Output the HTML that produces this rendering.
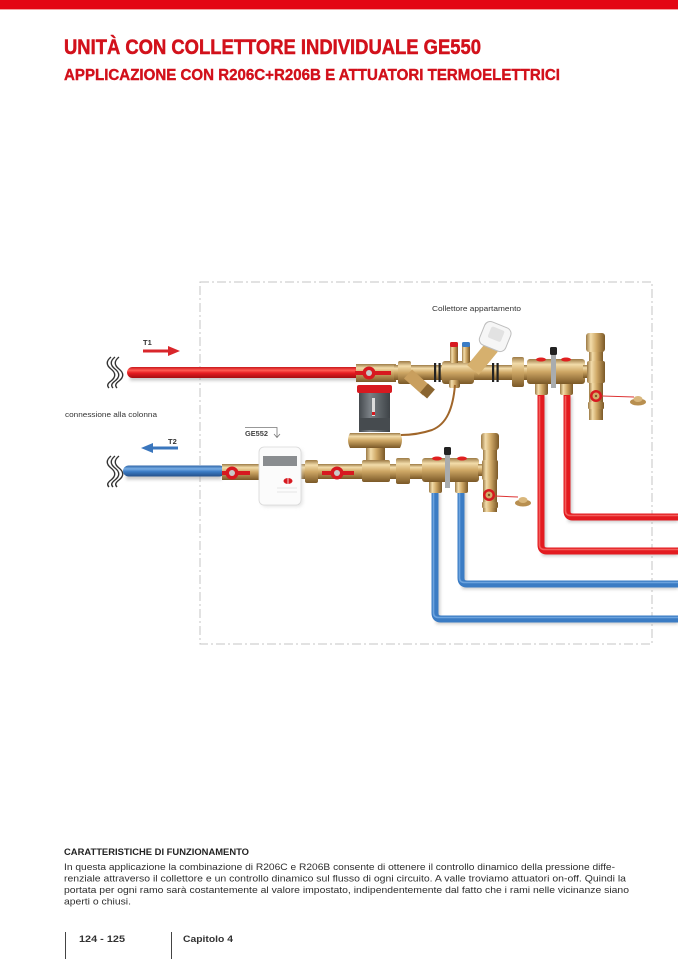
<!DOCTYPE html>
<html><head><meta charset="utf-8"><style>
html,body{margin:0;padding:0;background:#fff;}
svg{display:block;}
text{font-family:"Liberation Sans",sans-serif;}
</style></head><body>
<svg width="678" height="959" viewBox="0 0 678 959" xmlns="http://www.w3.org/2000/svg">
<defs>
<linearGradient id="bH" x1="0" y1="0" x2="0" y2="1">
<stop offset="0" stop-color="#9c7a45"/><stop offset="0.22" stop-color="#f2dcaa"/><stop offset="0.5" stop-color="#cfa866"/><stop offset="1" stop-color="#7a5827"/></linearGradient>
<linearGradient id="bV" x1="0" y1="0" x2="1" y2="0">
<stop offset="0" stop-color="#9c7a45"/><stop offset="0.25" stop-color="#f2dcaa"/><stop offset="0.55" stop-color="#cfa866"/><stop offset="1" stop-color="#7a5827"/></linearGradient>
<linearGradient id="rH" x1="0" y1="0" x2="0" y2="1">
<stop offset="0" stop-color="#c8161b"/><stop offset="0.3" stop-color="#ff5b52"/><stop offset="0.55" stop-color="#e61c21"/><stop offset="1" stop-color="#a30d11"/></linearGradient>
<linearGradient id="blH" x1="0" y1="0" x2="0" y2="1">
<stop offset="0" stop-color="#2d64a6"/><stop offset="0.3" stop-color="#78acE4"/><stop offset="0.55" stop-color="#3c7dc6"/><stop offset="1" stop-color="#24508a"/></linearGradient>
<linearGradient id="gV" x1="0" y1="0" x2="1" y2="0">
<stop offset="0" stop-color="#454a4e"/><stop offset="0.35" stop-color="#7a8085"/><stop offset="1" stop-color="#3e4347"/></linearGradient>
<filter id="sh" x="-5%" y="-20%" width="110%" height="160%"><feGaussianBlur stdDeviation="1.6"/></filter>
</defs>

<!-- top bar -->
<rect x="0" y="0" width="678" height="9" fill="#e30613"/>
<rect x="0" y="9" width="678" height="1" fill="#f3a0a0"/>

<!-- titles -->
<text x="64" y="54" font-size="21" font-weight="bold" fill="#d2111b" stroke="#d2111b" stroke-width="0.5" textLength="417" lengthAdjust="spacingAndGlyphs">UNITÀ CON COLLETTORE INDIVIDUALE GE550</text>
<text x="64" y="80" font-size="16" font-weight="bold" fill="#d2111b" stroke="#d2111b" stroke-width="0.4" textLength="496" lengthAdjust="spacingAndGlyphs">APPLICAZIONE CON R206C+R206B E ATTUATORI TERMOELETTRICI</text>

<!-- dashed box -->
<rect x="200" y="282" width="452" height="362" fill="none" stroke="#c4c4c4" stroke-width="1" stroke-dasharray="9 3 2 3"/>

<!-- labels -->
<text x="432" y="311" font-size="7.5" fill="#333" textLength="89" lengthAdjust="spacingAndGlyphs">Collettore appartamento</text>
<text x="143" y="345" font-size="7.5" font-weight="bold" fill="#333">T1</text>
<text x="168" y="444" font-size="7.5" font-weight="bold" fill="#333">T2</text>
<text x="65" y="417" font-size="7.5" fill="#333" textLength="92" lengthAdjust="spacingAndGlyphs">connessione alla colonna</text>
<text x="245" y="436" font-size="7.5" font-weight="bold" fill="#444" textLength="23" lengthAdjust="spacingAndGlyphs">GE552</text>
<path d="M245,427.5 H277 V437" fill="none" stroke="#777" stroke-width="0.8"/>
<path d="M274,434 L277,437.5 L280,434" fill="none" stroke="#777" stroke-width="0.8"/>

<!-- arrows -->
<line x1="143" y1="351" x2="170" y2="351" stroke="#d9262b" stroke-width="3"/>
<polygon points="168,346 180,351 168,356" fill="#d9262b"/>
<line x1="151" y1="448" x2="178" y2="448" stroke="#3a76bd" stroke-width="3"/>
<polygon points="153,443 141,448 153,453" fill="#3a76bd"/>

<!-- squiggles -->
<g fill="none" stroke="#333" stroke-width="1.4">
<path d="M111,357 C106,361 106,365 111,369 C116,373 116,377 111,381 C107,384 107,386 109,388"/>
<path d="M115,357 C110,361 110,365 115,369 C120,373 120,377 115,381 C111,384 111,386 113,388"/>
<path d="M119,357 C114,361 114,365 119,369 C124,373 124,377 119,381 C115,384 115,386 117,388"/>
<path d="M111,456 C106,460 106,464 111,468 C116,472 116,476 111,480 C107,483 107,485 109,487"/>
<path d="M115,456 C110,460 110,464 115,468 C120,472 120,476 115,480 C111,483 111,485 113,487"/>
<path d="M119,456 C114,460 114,464 119,468 C124,472 124,476 119,480 C115,483 115,485 117,487"/>
</g>

<!-- shadows -->
<g filter="url(#sh)" stroke="#9a9a9a" fill="none" opacity="0.55">
<line x1="130" y1="378" x2="360" y2="378" stroke-width="5"/>
<line x1="126" y1="477" x2="222" y2="477" stroke-width="5"/>
<path d="M438,492 V622 H678" stroke-width="4"/>
<path d="M464,492 V587 H678" stroke-width="4"/>
<path d="M544,396 V554 H678" stroke-width="4"/>
<path d="M570,396 V520 H678" stroke-width="4"/>
</g>

<!-- distribution pipes -->
<g fill="none" stroke-width="7">
<path d="M435,490 V613 Q435,619 441,619 H678" stroke="#3b7cc4"/>
<path d="M461,490 V578 Q461,584 467,584 H678" stroke="#3b7cc4"/>
<path d="M541,394 V545 Q541,551 547,551 H678" stroke="#e31b20"/>
<path d="M567,394 V511 Q567,517 573,517 H678" stroke="#e31b20"/>
</g>
<g fill="none" stroke-width="1.6" opacity="0.6">
<path d="M433.5,492 V613 Q433.5,617.5 439,617.5 H678" stroke="#8dbdf0"/>
<path d="M459.5,492 V578 Q459.5,582.5 465,582.5 H678" stroke="#8dbdf0"/>
<path d="M539.5,396 V545 Q539.5,549.5 545,549.5 H678" stroke="#ff8a82"/>
<path d="M565.5,396 V511 Q565.5,515.5 571,515.5 H678" stroke="#ff8a82"/>
</g>

<!-- main pipes -->
<rect x="127" y="367" width="234" height="11" rx="5.5" fill="url(#rH)"/>
<rect x="123" y="465.5" width="102" height="11" rx="5.5" fill="url(#blH)"/>

<!-- ===== upper line brass ===== -->
<rect x="356" y="364" width="40" height="18" fill="url(#bH)"/>
<rect x="394" y="365" width="135" height="15" fill="url(#bH)"/>
<rect x="398" y="361" width="13" height="23" rx="2" fill="url(#bH)"/>
<rect x="512" y="357" width="12" height="30" rx="2" fill="url(#bH)"/>
<!-- strainer -->
<line x1="408" y1="374" x2="427" y2="391" stroke="#c99f5e" stroke-width="12"/>
<line x1="424" y1="388" x2="431" y2="394" stroke="#8a6530" stroke-width="12"/>
<!-- black rings -->
<rect x="434" y="363" width="2.2" height="19" fill="#222"/>
<rect x="438.5" y="363" width="2.2" height="19" fill="#222"/>
<rect x="492" y="363" width="2.2" height="19" fill="#222"/>
<rect x="496.5" y="363" width="2.2" height="19" fill="#222"/>
<!-- valve body with nipples -->
<rect x="442" y="361" width="32" height="23" rx="3" fill="url(#bH)"/>
<rect x="449" y="380" width="11" height="8" rx="2" fill="url(#bV)"/>
<rect x="450" y="345" width="8" height="18" fill="url(#bV)"/>
<rect x="450" y="342" width="8" height="5" rx="1.5" fill="#d71920"/>
<rect x="462" y="345" width="8" height="18" fill="url(#bV)"/>
<rect x="462" y="342" width="8" height="5" rx="1.5" fill="#3a7cc5"/>
<!-- handwheel valve -->
<line x1="473" y1="370" x2="492" y2="347" stroke="#d6b06e" stroke-width="15"/>
<g transform="rotate(22 495 337)">
<rect x="481" y="324" width="28" height="25" rx="6" fill="#f6f6f6" stroke="#bdbdbd" stroke-width="1"/>
<rect x="488" y="328" width="14" height="12" rx="2" fill="#e2e2e2"/>
</g>
<!-- upper ball valve lever -->
<line x1="355" y1="373" x2="391" y2="373" stroke="#d71920" stroke-width="4"/>
<circle cx="369" cy="373" r="6.5" fill="#d71920"/>
<circle cx="369" cy="373" r="3" fill="#c9c9c9"/>
<!-- upper manifold -->
<rect x="535" y="382" width="13" height="13" rx="2" fill="url(#bV)"/>
<rect x="560" y="382" width="13" height="13" rx="2" fill="url(#bV)"/>
<rect x="527" y="359" width="58" height="25" rx="3" fill="url(#bH)"/>
<ellipse cx="541" cy="359.5" rx="5" ry="2" fill="#e02020"/>
<ellipse cx="566" cy="359.5" rx="5" ry="2" fill="#e02020"/>
<rect x="551" y="352" width="5" height="36" fill="#a9acae"/>
<rect x="550" y="347" width="7" height="8" rx="1.5" fill="#222"/>
<rect x="583" y="365" width="7" height="13" fill="url(#bH)"/>
<rect x="589" y="340" width="14" height="80" fill="url(#bV)"/>
<rect x="586" y="333" width="19" height="19" rx="3" fill="url(#bV)"/>
<rect x="587" y="361" width="18" height="22" rx="2" fill="url(#bV)"/>
<rect x="588" y="402" width="16" height="7" rx="1" fill="url(#bV)"/>
<line x1="602" y1="396" x2="634" y2="397" stroke="#d33" stroke-width="1"/>
<circle cx="596" cy="396" r="6" fill="#d71920"/>
<circle cx="596" cy="396" r="3.5" fill="#d2ab6a"/>
<circle cx="596" cy="396" r="1.2" fill="#7a5827"/>
<ellipse cx="638" cy="402" rx="8" ry="3.5" fill="#b88f50"/>
<ellipse cx="638" cy="399" rx="4.5" ry="3" fill="#d9b77c"/>

<!-- ===== DP valve ===== -->
<rect x="366" y="444" width="19" height="20" fill="url(#bV)"/>
<path d="M350,433 H400 Q404,440 400,448 H350 Q346,440 350,433 Z" fill="url(#bH)"/>
<rect x="359" y="392" width="31" height="40" fill="url(#gV)"/>
<rect x="359" y="418" width="31" height="12" fill="#464b4f"/>
<rect x="357" y="385" width="35" height="8" rx="2" fill="#d71920"/>
<rect x="372" y="398" width="3" height="18" fill="#dcdcdc"/>
<rect x="372" y="412" width="3" height="3" fill="#d71920"/>
<path d="M455,385 C453,408 447,424 432,430 C420,434 410,435 401,435" fill="none" stroke="#a0662a" stroke-width="2"/>

<!-- ===== lower line brass ===== -->
<rect x="222" y="464" width="38" height="16" fill="url(#bH)"/>
<rect x="300" y="464" width="122" height="15" fill="url(#bH)"/>
<rect x="305" y="460" width="13" height="23" rx="2" fill="url(#bH)"/>
<rect x="362" y="460" width="28" height="22" rx="2" fill="url(#bH)"/>
<rect x="396" y="458" width="14" height="26" rx="2" fill="url(#bH)"/>
<line x1="222" y1="473" x2="250" y2="473" stroke="#d71920" stroke-width="4"/>
<circle cx="232" cy="473" r="6.5" fill="#d71920"/>
<circle cx="232" cy="473" r="3" fill="#c9c9c9"/>
<line x1="322" y1="473" x2="354" y2="473" stroke="#d71920" stroke-width="4"/>
<circle cx="337" cy="473" r="6.5" fill="#d71920"/>
<circle cx="337" cy="473" r="3" fill="#c9c9c9"/>

<!-- heat meter -->
<rect x="261" y="449" width="42" height="58" rx="5" fill="#cfcfcf" opacity="0.5" filter="url(#sh)"/>
<rect x="259" y="447" width="42" height="58" rx="5" fill="#fbfbfb" stroke="#d8d8d8" stroke-width="0.8"/>
<rect x="263" y="456" width="34" height="10" fill="#8a8d90"/>
<ellipse cx="288" cy="481" rx="4.5" ry="3" fill="#d71920"/>
<line x1="288" y1="478" x2="288" y2="484" stroke="#fff" stroke-width="0.8"/>
<line x1="277" y1="488" x2="297" y2="488" stroke="#ddd" stroke-width="0.8"/>
<line x1="277" y1="492" x2="297" y2="492" stroke="#ddd" stroke-width="0.8"/>

<!-- lower manifold -->
<rect x="429" y="480" width="13" height="13" rx="2" fill="url(#bV)"/>
<rect x="455" y="480" width="13" height="13" rx="2" fill="url(#bV)"/>
<rect x="422" y="458" width="57" height="24" rx="3" fill="url(#bH)"/>
<ellipse cx="437" cy="458.5" rx="5" ry="2" fill="#e02020"/>
<ellipse cx="462" cy="458.5" rx="5" ry="2" fill="#e02020"/>
<rect x="445" y="452" width="5" height="36" fill="#a9acae"/>
<rect x="444" y="447" width="7" height="8" rx="1.5" fill="#222"/>
<rect x="478" y="464" width="6" height="12" fill="url(#bH)"/>
<rect x="483" y="440" width="14" height="72" fill="url(#bV)"/>
<rect x="481" y="433" width="18" height="17" rx="3" fill="url(#bV)"/>
<rect x="482" y="460" width="16" height="20" rx="2" fill="url(#bV)"/>
<rect x="482" y="502" width="16" height="6" rx="1" fill="url(#bV)"/>
<line x1="495" y1="496" x2="518" y2="497" stroke="#d33" stroke-width="1"/>
<circle cx="489" cy="495" r="6" fill="#d71920"/>
<circle cx="489" cy="495" r="3.5" fill="#d2ab6a"/>
<circle cx="489" cy="495" r="1.2" fill="#7a5827"/>
<ellipse cx="523" cy="503" rx="8" ry="3.5" fill="#b88f50"/>
<ellipse cx="523" cy="500" rx="4.5" ry="3" fill="#d9b77c"/>

<!-- bottom text -->
<text x="64" y="855" font-size="9.5" font-weight="bold" fill="#222" textLength="185" lengthAdjust="spacingAndGlyphs">CARATTERISTICHE DI FUNZIONAMENTO</text>
<g font-size="9.5" fill="#2e2e2e">
<text x="64" y="870" textLength="551" lengthAdjust="spacingAndGlyphs">In questa applicazione la combinazione di R206C e R206B consente di ottenere il controllo dinamico della pressione diffe-</text>
<text x="64" y="881.5" textLength="562" lengthAdjust="spacingAndGlyphs">renziale attraverso il collettore e un controllo dinamico sul flusso di ogni circuito. A valle troviamo attuatori on-off. Quindi la</text>
<text x="64" y="893" textLength="565" lengthAdjust="spacingAndGlyphs">portata per ogni ramo sarà costantemente al valore impostato, indipendentemente dal fatto che i rami nelle vicinanze  siano</text>
<text x="64" y="904.5" textLength="67" lengthAdjust="spacingAndGlyphs">aperti o chiusi.</text>
</g>

<!-- footer -->
<line x1="65.5" y1="932" x2="65.5" y2="959" stroke="#444" stroke-width="1"/>
<line x1="171.5" y1="932" x2="171.5" y2="959" stroke="#444" stroke-width="1"/>
<text x="79" y="942" font-size="9" font-weight="bold" fill="#333" textLength="46" lengthAdjust="spacingAndGlyphs">124 - 125</text>
<text x="183" y="942" font-size="9" font-weight="bold" fill="#333" textLength="50" lengthAdjust="spacingAndGlyphs">Capitolo 4</text>
</svg>
</body></html>
